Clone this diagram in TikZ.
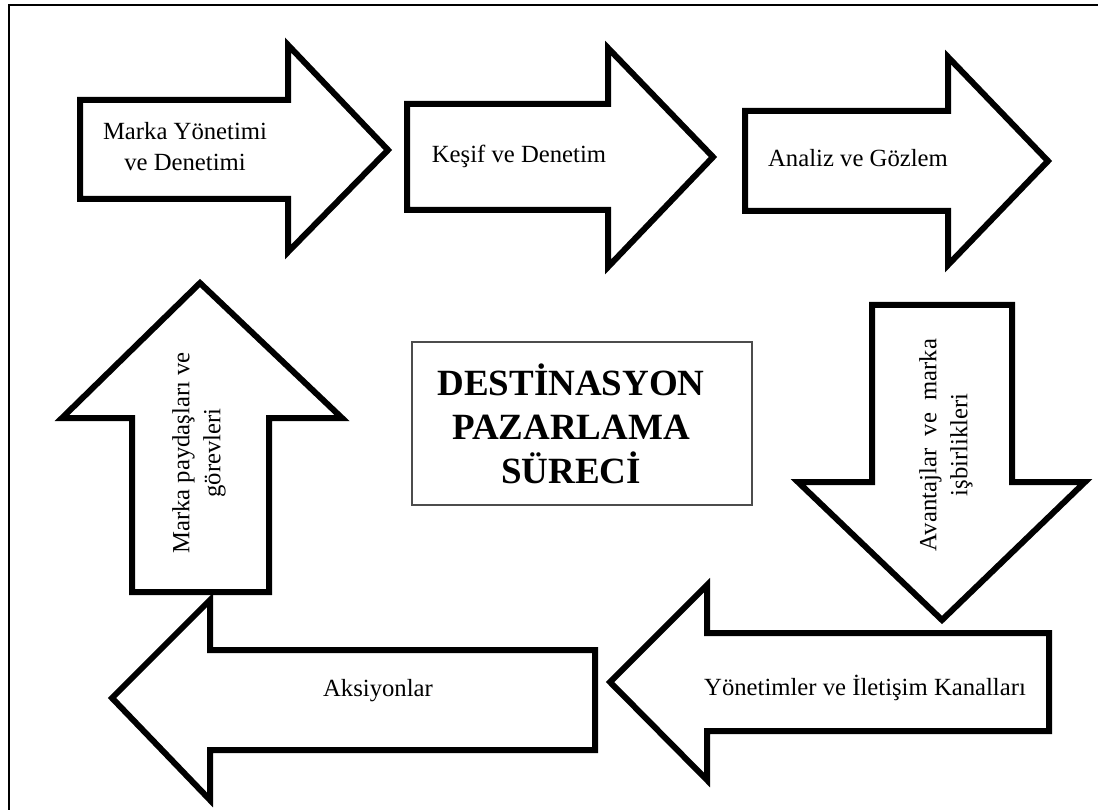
\documentclass[tikz,border=0pt]{standalone}
\usepackage{fontspec}
\setmainfont{Liberation Serif}[BoldFont={Liberation Serif Bold}]
\usetikzlibrary{positioning}
\tikzset{
arrowshape/.style={draw, line width=6pt, fill=white, line join=miter, miter limit=10},
steptext/.style={font=\fontsize{24.7}{31}\selectfont, align=center, inner sep=0pt},
titlebox/.style={draw=black!70, line width=1.2pt, minimum width=340pt, minimum height=163pt},
titletext/.style={font=\fontsize{37}{44}\selectfont\bfseries, align=center, inner sep=0pt},
}

\begin{document}
\begin{tikzpicture}[x=1pt,y=-1pt]
\useasboundingbox (0,0) rectangle (1098,810);
% frame
\draw[line width=1.5pt] (9,810) -- (9,5) -- (1098,5);

% top row
\draw[arrowshape] (80,100) -- (288,100) -- (288,45) -- (388,150) -- (288,252) -- (288,199) -- (80,199) -- cycle;
\draw[arrowshape] (407,104) -- (608,104) -- (608,48) -- (713,157) -- (608,267) -- (608,210) -- (407,210) -- cycle;
\draw[arrowshape] (745,111) -- (948,111) -- (948,57) -- (1048,161) -- (948,265) -- (948,211) -- (745,211) -- cycle;
% right side, down
\draw[arrowshape] (872,305) -- (1012,305) -- (1012,482) -- (1085,482) -- (942,620) -- (798,482) -- (872,482) -- cycle;
% bottom row
\draw[arrowshape] (1049,633) -- (1049,731) -- (707,731) -- (707,780) -- (610,682) -- (707,585) -- (707,633) -- cycle;
\draw[arrowshape] (595,650) -- (595,750) -- (210,750) -- (210,800) -- (112,698) -- (210,600) -- (210,650) -- cycle;
% left side, up
\draw[arrowshape] (132,592) -- (132,418) -- (62,418) -- (200,283) -- (342,418) -- (269,418) -- (269,592) -- cycle;

% texts
\node[steptext] (marka) at (185,147) {Marka Yönetimi\\ve Denetimi};
\node[steptext] (kesif) at (519,156) {Keşif ve Denetim};
\node[steptext] (analiz) at (858,158) {Analiz ve Gözlem};
\node[steptext, rotate=90] (avantaj) at (946,445) {Avantajlar~~ve~~marka\\işbirlikleri};
\node[steptext] (yonetim) at (865,688) {Yönetimler ve İletişim Kanalları};
\node[steptext] (aksiyon) at (378,691) {Aksiyonlar};
\node[steptext, rotate=90] (paydas) at (199,453) {Marka paydaşları ve\\görevleri};

% center
\node[titlebox] (kutu) at (582,423.5) {};
\node[titletext] (baslik) at (571,424) {DESTİNASYON\\PAZARLAMA\\SÜRECİ};
\end{tikzpicture}
\end{document}
